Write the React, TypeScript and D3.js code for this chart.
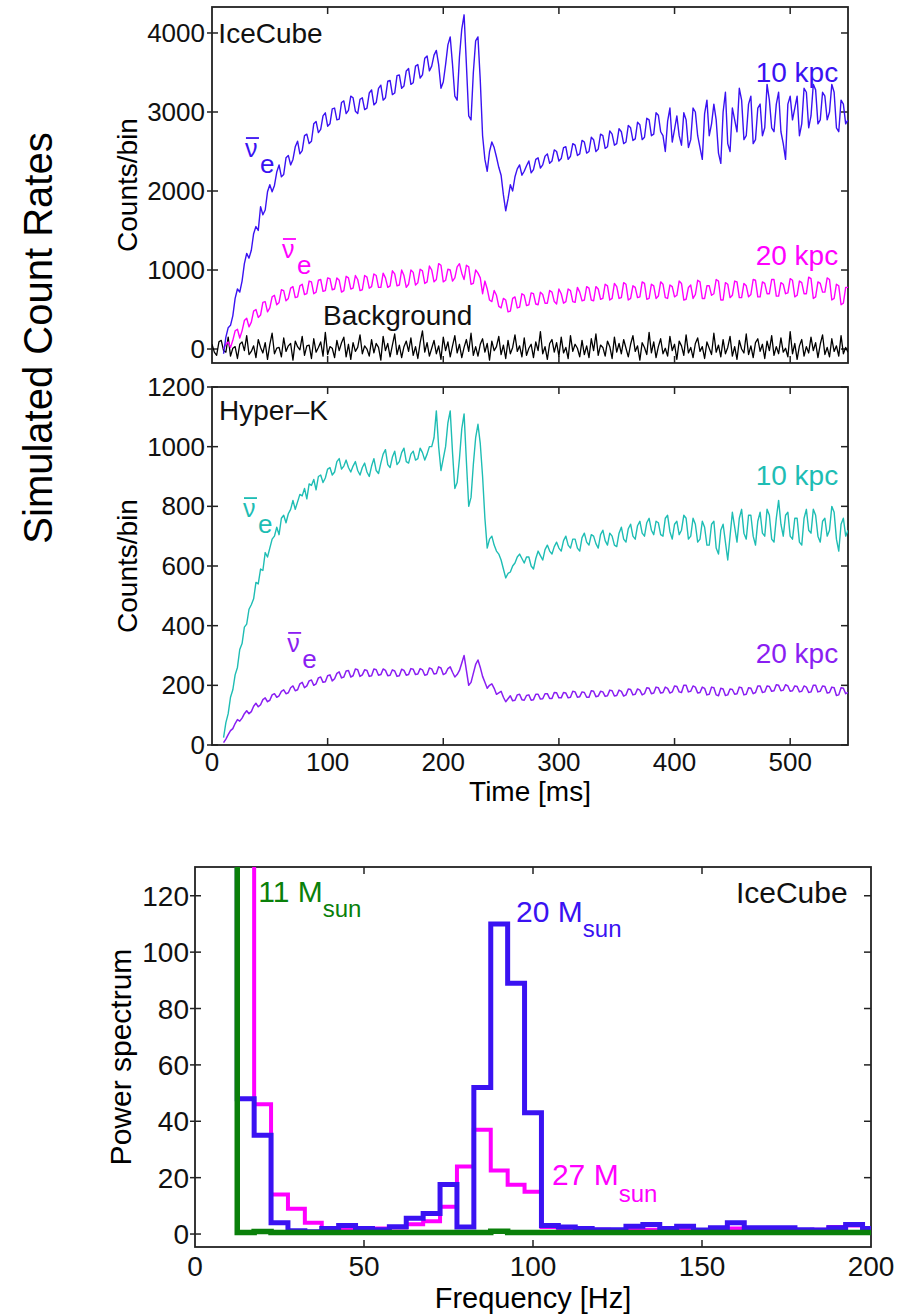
import * as d3 from 'd3';

const FONT = '"Liberation Sans", Arial, Helvetica, sans-serif';

// time series: one value every DT ms, starting at T0 (signals) or 0 (background)
const T0 = 10;
const DT = 2;

const ICECUBE_10KPC = [
  -60, 150, 270, 300, 420, 640, 760, 720, 860, 1080,
  1210, 1150, 1250, 1460, 1550, 1500, 1800, 1700, 1760, 1990,
  2080, 1990, 2070, 2240, 2330, 2180, 2210, 2420, 2450, 2330,
  2400, 2560, 2630, 2470, 2510, 2700, 2720, 2600, 2630, 2850,
  2880, 2740, 2780, 2950, 2990, 2820, 2850, 3040, 3050, 2900,
  2910, 3120, 3140, 2980, 3020, 3200, 3180, 3010, 2980, 3160,
  3180, 3030, 3050, 3240, 3280, 3090, 3120, 3300, 3340, 3150,
  3180, 3390, 3400, 3220, 3240, 3460, 3470, 3300, 3330, 3520,
  3550, 3350, 3370, 3580, 3600, 3430, 3470, 3680, 3710, 3520,
  3580, 3720, 3780, 3600, 3300, 3380, 3600, 3850, 3950, 3600,
  3200, 3150, 3700, 4050, 4230, 3600, 2950, 2900, 3500, 3900,
  3950, 3400, 2700, 2400, 2250, 2500, 2620, 2550, 2430, 2300,
  2200, 1950, 1750, 1900, 2080, 2000, 2180, 2280, 2330, 2200,
  2250, 2320, 2380, 2230, 2270, 2400, 2420, 2290, 2330, 2440,
  2470, 2350, 2380, 2520, 2500, 2380, 2410, 2550, 2560, 2400,
  2440, 2600, 2580, 2450, 2470, 2640, 2620, 2480, 2500, 2680,
  2650, 2500, 2530, 2720, 2700, 2540, 2560, 2760, 2720, 2580,
  2600, 2790, 2750, 2600, 2620, 2830, 2800, 2640, 2660, 2870,
  2840, 2650, 2680, 2920, 2900, 2700, 2720, 2990, 2960, 2750,
  2700, 2500, 2880, 3050, 2620, 2780, 2950, 2700, 2580, 2990,
  2900, 2550, 2650, 3050, 3000, 2700, 2550, 2400, 2980, 3150,
  2700, 2850, 3100, 2900, 2480, 2350, 3000, 3250, 2600, 2500,
  3050, 2900, 2750, 3300, 3150, 2650, 2700, 3100, 3200, 2600,
  2650, 3050, 3100, 2700, 2800, 3350, 3150, 2800, 2750, 3100,
  3250, 2750, 2600, 2400, 3100, 3200, 2900, 3050, 3200, 2700,
  2850, 3300, 3250, 2800, 2950, 3350, 3280, 2850, 2900, 3250,
  3200, 2900, 3000, 3350, 3250, 2800, 2750, 3150, 3100, 2850,
  2900,
];

const ICECUBE_20KPC = [
  0, 60, 90, 20, 110, 230, 250, 140, 230, 360,
  390, 280, 340, 480, 500, 400, 430, 590, 600, 470,
  520, 660, 680, 560, 590, 750, 740, 610, 640, 770,
  790, 650, 660, 800, 820, 690, 700, 860, 850, 700,
  720, 870, 880, 730, 740, 900, 890, 750, 760, 900,
  870, 720, 740, 920, 900, 760, 770, 930, 880, 740,
  750, 930, 910, 770, 790, 950, 930, 780, 780, 960,
  900, 780, 800, 990, 950, 800, 810, 1000, 930, 780,
  820, 1000, 970, 810, 840, 1010, 990, 830, 850, 1050,
  1000, 850, 880, 1080, 1060, 850, 870, 1010, 1000, 860,
  900, 1040, 1080, 960, 880, 1060, 1040, 820, 830, 1000,
  960, 900, 700, 860, 760, 620, 600, 740, 680, 540,
  520, 640, 620, 470, 480, 640, 660, 520, 530, 700,
  680, 550, 560, 710, 700, 570, 560, 720, 690, 580,
  580, 740, 720, 600, 570, 760, 700, 580, 600, 760,
  740, 600, 590, 780, 720, 610, 620, 790, 770, 620,
  610, 790, 760, 630, 640, 820, 800, 620, 640, 830,
  790, 640, 650, 840, 820, 620, 640, 800, 780, 650,
  660, 850, 830, 630, 640, 820, 800, 640, 670, 850,
  820, 650, 640, 810, 790, 660, 680, 860, 830, 620,
  630, 780, 810, 640, 690, 870, 850, 640, 640, 800,
  800, 680, 700, 880, 860, 620, 620, 840, 820, 650,
  680, 860, 850, 650, 650, 830, 800, 660, 690, 880,
  870, 660, 660, 850, 830, 700, 700, 880, 880, 670,
  670, 840, 820, 700, 710, 890, 870, 660, 680, 860,
  840, 700, 700, 910, 890, 640, 660, 850, 830, 720,
  720, 900, 880, 620, 640, 820, 800, 560, 580, 780,
  780,
];

const ICECUBE_BACKGROUND = [
  60, -40, -80, 90, 110, -20, -40, 150, -90, 10,
  30, -120, 60, 90, -20, 170, -70, -30, 40, -110,
  120, 20, -50, 80, -130, 60, 200, -60, 10, 20,
  -100, 140, -30, 40, 70, -140, 100, 30, -10, 160,
  -80, 40, 50, -120, 130, -40, 20, 90, -90, 210,
  -70, 30, 10, -110, 110, -20, 80, 150, -100, 60,
  -130, 80, -30, 20, 180, -60, 40, 0, -90, 120,
  -50, 70, 20, -140, 160, -20, 70, -100, 50, 190,
  -70, 50, -110, 30, 100, -30, 140, -80, 30, -120,
  80, 230, -40, 80, -90, 10, 110, -60, 40, -130,
  150, -20, 90, -100, 40, 170, -50, 60, -110, 20,
  120, -30, 200, -80, 30, -90, 60, 130, -40, 70,
  -140, 100, -20, 30, 160, -70, 50, -120, 110, -60,
  20, 180, -30, 40, -100, 140, -80, 10, 60, -110,
  90, -20, 220, -60, 30, -130, 70, 120, -40, 80,
  -90, 150, -50, 20, -120, 170, -30, 60, 10, -100,
  110, -70, 40, -110, 130, -20, 190, -80, 50, 20,
  -90, 100, 30, -120, 150, -40, 70, -60, 120, 10,
  -100, 60, 170, -30, 40, -140, 80, 20, -70, 210,
  -50, 90, -110, 30, 130, -60, 10, -90, 160, -20,
  60, -130, 100, 40, -80, 180, -50, 20, -110, 70,
  140, -30, 30, -120, 90, 10, -70, 200, -40, 50,
  -100, 120, -60, 20, 160, -90, 30, -130, 110, 0,
  -50, 190, -70, 40, -110, 80, 130, -30, 60, -120,
  100, -20, 170, -80, 30, -60, 140, -40, 10, -100,
  220, -60, 70, -130, 40, 120, -90, 30, -50, 150,
  -20, 80, -110, 60, 180, -70, 20, -100, 130, -30,
  40, -90, 170, -60, 20, -40,
];

const HYPERK_10KPC = [
  25, 75, 105, 160, 185, 235, 260, 320, 340, 395,
  405, 455, 470, 490, 545, 540, 590, 585, 645, 630,
  660, 690, 700, 730, 705, 760, 770, 745, 775, 790,
  820, 790, 815, 840, 835, 860, 825, 875, 870, 890,
  855, 900, 905, 880, 895, 925, 930, 905, 915, 950,
  960, 925, 935, 955, 930, 915, 935, 950, 920, 905,
  930, 945, 915, 900, 935, 960, 920, 910, 945, 975,
  990, 940, 930, 965, 985, 940, 950, 980, 995, 950,
  945, 975, 985, 955, 960, 995, 980, 955, 975, 1000,
  1000, 1030, 1120, 1000, 920, 960, 1000, 1080, 1120, 980,
  860, 880, 960, 1060, 1110, 950, 800, 830, 940, 1030,
  1075, 1010, 900, 760, 660, 690, 700, 670, 650, 640,
  620, 590, 560, 575, 580, 600, 610, 630, 640, 625,
  610, 630, 630, 600, 590, 625, 650, 635, 620, 655,
  670, 650, 640, 665, 680, 660, 650, 685, 700, 670,
  660, 690, 690, 660, 650, 695, 710, 680, 670, 705,
  700, 675, 660, 705, 720, 685, 670, 710, 700, 670,
  665, 710, 730, 690, 680, 725, 740, 700, 690, 735,
  750, 710, 700, 745, 760, 720, 705, 750, 745, 705,
  700, 760, 770, 715, 690, 740, 750, 705, 720, 770,
  760, 690, 700, 760, 740, 680, 690, 750, 730, 670,
  670, 740, 750, 660, 640, 720, 740, 680, 620, 700,
  780, 730, 680, 760, 790, 710, 690, 770, 770, 700,
  670, 750, 780, 710, 700, 790, 770, 690, 680, 760,
  820, 740, 700, 770, 780, 700, 690, 760, 760, 680,
  670, 760, 790, 720, 710, 790, 770, 700, 680, 750,
  760, 700, 720, 800, 780, 690, 650, 740, 760, 700,
  720,
];

const HYPERK_20KPC = [
  8, 20, 35, 48, 55, 72, 85, 80, 90, 105,
  115, 105, 112, 130, 140, 128, 135, 152, 158, 145,
  150, 168, 172, 160, 165, 180, 185, 172, 175, 192,
  198, 182, 185, 205, 210, 192, 198, 215, 218, 200,
  205, 225, 228, 210, 212, 232, 235, 215, 222, 240,
  245, 225, 228, 248, 250, 228, 232, 255, 252, 230,
  235, 252, 250, 230, 232, 255, 252, 234, 236, 255,
  250, 232, 234, 252, 248, 230, 232, 254, 250, 234,
  236, 256, 254, 236, 238, 256, 252, 234, 236, 258,
  255, 238, 240, 262, 258, 236, 240, 256, 262, 244,
  228, 236, 250, 275, 300, 250, 200, 210, 240, 270,
  285, 260, 230, 210, 190, 200, 205, 190, 170, 175,
  180, 160, 145, 155, 165, 148, 150, 168, 170, 152,
  150, 166, 168, 150, 152, 170, 170, 154, 155, 172,
  172, 156, 156, 176, 175, 158, 158, 176, 174, 158,
  160, 180, 178, 160, 162, 178, 176, 160, 160, 182,
  180, 162, 164, 180, 178, 163, 165, 184, 182, 164,
  166, 184, 180, 164, 168, 188, 186, 168, 170, 188,
  184, 168, 172, 192, 190, 172, 174, 194, 192, 174,
  176, 194, 190, 174, 178, 198, 196, 178, 176, 200,
  200, 178, 180, 198, 194, 174, 176, 194, 190, 168,
  170, 194, 192, 168, 165, 190, 188, 166, 168, 188,
  186, 170, 172, 194, 192, 168, 170, 192, 190, 172,
  176, 198, 198, 176, 178, 198, 196, 180, 182, 202,
  200, 182, 184, 202, 198, 180, 182, 198, 196, 178,
  180, 198, 194, 176, 178, 200, 200, 178, 180, 198,
  196, 174, 176, 194, 192, 166, 168, 192, 190, 172,
  176,
];

const TIME_TICKS = [0, 100, 200, 300, 400, 500];
const ICE_Y_TICKS = [0, 1000, 2000, 3000, 4000];
const HK_Y_TICKS = [0, 200, 400, 600, 800, 1000, 1200];

// power spectrum, 5 Hz bins (centres)
const BIN_WIDTH = 5;
const FREQ_BINS = d3.range(10, 201, 5);
const SPEC_11MSUN = [
  400, 0.5, 0.9, 0.5, 0.5, 0.5, 0.5, 0.5, 0.5, 0.5, 0.5, 0.5, 0.5, 0.5, 0.5, 0.5, 1.0, 0.5, 0.5, 0.5,
  0.5, 0.5, 0.5, 0.5, 0.5, 0.5, 0.5, 0.5, 0.5, 0.5, 0.5, 0.5, 0.5, 0.5, 0.5, 0.5, 0.5, 0.5, 0.5,
];
const SPEC_20MSUN = [
  400, 48, 35, 4, 1.2, 0.8, 2, 3, 2, 1.5, 2.6, 5.6, 7.3, 17.6, 2.5, 52, 110, 89, 43, 3,
  2.5, 2, 1.5, 1.5, 2.8, 3.4, 2, 2.8, 1.4, 2.2, 4, 2.2, 2.2, 2.2, 1.5, 1.4, 2.2, 3.4, 2,
];
const SPEC_27MSUN = [
  400, 400, 46, 14, 9, 4, 1.5, 1.5, 1.2, 2, 2.3, 3.5, 4.5, 9.7, 24, 37, 22.5, 17.5, 15, 2.5,
  2, 1.5, 1.5, 1.2, 1.5, 1.5, 1.2, 1.5, 1.2, 1.5, 2, 1.5, 1.2, 1.5, 1.2, 1.5, 2.5, 3, 2,
];
const FREQ_TICKS = [0, 50, 100, 150, 200];
const POWER_TICKS = [0, 20, 40, 60, 80, 100, 120];

const BLUE = '#3a12f2';
const MAGENTA = '#ff00ff';
const CYAN = '#1ebdb4';
const PURPLE = '#8a1ef2';
const GREEN = '#0a800a';

type Scale = d3.ScaleLinear<number, number>;

const xTime = d3.scaleLinear().domain([0, 550]).range([212, 848]);
const yIce = d3.scaleLinear().domain([-177, 4329]).range([363, 7]);
const yHK = d3.scaleLinear().domain([0, 1200]).range([745, 387]);
const xFreq = d3.scaleLinear().domain([0, 200]).range([195, 871]);
const yPow = d3.scaleLinear().domain([-4.6, 130.2]).range([1247, 867]);

const series = (vals: number[], start: number): [number, number][] =>
  vals.map((v, i) => [start + i * DT, v]);

const stairs = (vals: number[]): [number, number][] =>
  FREQ_BINS.flatMap((c, i) => [
    [c - BIN_WIDTH / 2, vals[i]],
    [c + BIN_WIDTH / 2, vals[i]],
  ]);

function Frame({ id, x, y, xTicks, yTicks }: { id: string; x: Scale; y: Scale; xTicks: number[]; yTicks: number[] }) {
  const [x0, x1] = x.range();
  const [y0, y1] = y.range();
  return (
    <g stroke="#222" strokeWidth={1.5}>
      <clipPath id={id}>
        <rect x={x0} y={y1} width={x1 - x0} height={y0 - y1} />
      </clipPath>
      {xTicks.map((t) => (
        <g key={'x' + t}>
          <line x1={x(t)} x2={x(t)} y1={y0} y2={y0 - 7} />
          <line x1={x(t)} x2={x(t)} y1={y1} y2={y1 + 7} />
        </g>
      ))}
      {yTicks.map((t) => (
        <g key={'y' + t}>
          <line x1={x0 - 5} x2={x0 + 6} y1={y(t)} y2={y(t)} />
          <line x1={x1} x2={x1 - 7} y1={y(t)} y2={y(t)} />
        </g>
      ))}
      <rect x={x0} y={y1} width={x1 - x0} height={y0 - y1} fill="none" strokeWidth={1.8} />
    </g>
  );
}

function NuBar({ x, y, color }: { x: number; y: number; color: string }) {
  return (
    <g fill={color}>
      <text x={x} y={y} fontSize={25}>ν</text>
      <line x1={x + 1} x2={x + 14} y1={y - 19} y2={y - 19} stroke={color} strokeWidth={1.8} />
      <text x={x + 15} y={y + 16} fontSize={26}>e</text>
    </g>
  );
}

export default function App() {
  const line = d3.line<[number, number]>().x((d) => xTime(d[0]));
  const iceLine = (vals: number[], start = T0) => line.y((d) => yIce(d[1]))(series(vals, start)) ?? '';
  const hkLine = (vals: number[]) => line.y((d) => yHK(d[1]))(series(vals, T0)) ?? '';
  const specLine = (vals: number[]) =>
    d3.line<[number, number]>().x((d) => xFreq(d[0])).y((d) => yPow(Math.min(d[1], 200)))(stairs(vals)) ?? '';

  return (
    <svg width={912} height={1316} style={{ position: 'absolute', left: 0, top: 0, background: '#fff' }} fontFamily={FONT}>
      <text transform="translate(52,338) rotate(-90)" textAnchor="middle" fontSize={40} fill="#000">
        Simulated Count Rates
      </text>

      {/* IceCube panel */}
      <Frame id="clipIce" x={xTime} y={yIce} xTicks={TIME_TICKS.slice(1)} yTicks={ICE_Y_TICKS} />
      <g clipPath="url(#clipIce)" fill="none" strokeLinejoin="round">
        <path d={iceLine(ICECUBE_BACKGROUND, 0)} stroke="#000" strokeWidth={1.3} />
        <path d={iceLine(ICECUBE_20KPC)} stroke={MAGENTA} strokeWidth={1.4} />
        <path d={iceLine(ICECUBE_10KPC)} stroke={BLUE} strokeWidth={1.4} />
      </g>
      <g fontSize={26} textAnchor="end" fill="#111">
        {ICE_Y_TICKS.map((t) => (
          <text key={t} x={205} y={yIce(t) + 9}>{t}</text>
        ))}
      </g>
      <text transform={`translate(137,${(yIce.range()[0] + yIce.range()[1]) / 2}) rotate(-90)`} textAnchor="middle" fontSize={28}>
        Counts/bin
      </text>
      <text x={xTime(5.5)} y={yIce(3873)} fontSize={28} fill="#111">IceCube</text>
      <text x={xTime(541.5)} y={yIce(3380)} fontSize={28} fill={BLUE} textAnchor="end">10 kpc</text>
      <text x={xTime(541.5)} y={yIce(1063)} fontSize={28} fill={MAGENTA} textAnchor="end">20 kpc</text>
      <text x={xTime(96)} y={yIce(304)} fontSize={28} fill="#111">Background</text>
      <NuBar x={xTime(28.5)} y={yIce(2430)} color={BLUE} />
      <NuBar x={xTime(60.5)} y={yIce(1152)} color={MAGENTA} />

      {/* Hyper-K panel */}
      <Frame id="clipHK" x={xTime} y={yHK} xTicks={TIME_TICKS.slice(1)} yTicks={HK_Y_TICKS} />
      <g clipPath="url(#clipHK)" fill="none" strokeLinejoin="round">
        <path d={hkLine(HYPERK_20KPC)} stroke={PURPLE} strokeWidth={1.5} />
        <path d={hkLine(HYPERK_10KPC)} stroke={CYAN} strokeWidth={1.4} />
      </g>
      <g fontSize={26} textAnchor="end" fill="#111">
        {HK_Y_TICKS.map((t) => (
          <text key={t} x={205} y={yHK(t) + 9}>{t}</text>
        ))}
      </g>
      <g fontSize={26} textAnchor="middle" fill="#111">
        {TIME_TICKS.map((t) => (
          <text key={t} x={xTime(t)} y={771}>{t}</text>
        ))}
      </g>
      <text x={(xTime.range()[0] + xTime.range()[1]) / 2} y={801} fontSize={28} textAnchor="middle">Time [ms]</text>
      <text transform={`translate(137,${(yHK.range()[0] + yHK.range()[1]) / 2}) rotate(-90)`} textAnchor="middle" fontSize={28}>
        Counts/bin
      </text>
      <text x={xTime(6)} y={yHK(1089)} fontSize={28} fill="#111">Hyper–K</text>
      <text x={xTime(541.5)} y={yHK(872)} fontSize={28} fill={CYAN} textAnchor="end">10 kpc</text>
      <text x={xTime(541.5)} y={yHK(275)} fontSize={28} fill={PURPLE} textAnchor="end">20 kpc</text>
      <NuBar x={xTime(26.8)} y={yHK(764)} color={CYAN} />
      <NuBar x={xTime(65)} y={yHK(312)} color={PURPLE} />

      {/* Power spectrum panel */}
      <Frame id="clipPow" x={xFreq} y={yPow} xTicks={FREQ_TICKS.slice(1, -1)} yTicks={POWER_TICKS} />
      <g clipPath="url(#clipPow)" fill="none" strokeLinejoin="miter">
        <path d={specLine(SPEC_27MSUN)} stroke={MAGENTA} strokeWidth={4} />
        <path d={specLine(SPEC_20MSUN)} stroke={BLUE} strokeWidth={5} />
        <path d={specLine(SPEC_11MSUN)} stroke={GREEN} strokeWidth={5.5} />
      </g>
      <g fontSize={28} textAnchor="end" fill="#111">
        {POWER_TICKS.map((t) => (
          <text key={t} x={189} y={yPow(t) + 10}>{t}</text>
        ))}
      </g>
      <g fontSize={28} textAnchor="middle" fill="#111">
        {FREQ_TICKS.map((t) => (
          <text key={t} x={xFreq(t)} y={1276}>{t}</text>
        ))}
      </g>
      <text x={(xFreq.range()[0] + xFreq.range()[1]) / 2} y={1308} fontSize={29} textAnchor="middle">Frequency [Hz]</text>
      <text transform={`translate(131,${(yPow.range()[0] + yPow.range()[1]) / 2}) rotate(-90)`} textAnchor="middle" fontSize={30}>
        Power spectrum
      </text>
      <text x={xFreq(193.1)} y={yPow(117.4)} fontSize={30} fill="#111" textAnchor="end">IceCube</text>
      <text x={xFreq(18.7)} y={yPow(117.7)} fontSize={30} fill={GREEN}>
        11 M<tspan fontSize={24} dy={15}>sun</tspan>
      </text>
      <text x={xFreq(95)} y={yPow(110.6)} fontSize={30} fill={BLUE}>
        20 M<tspan fontSize={24} dy={15}>sun</tspan>
      </text>
      <text x={xFreq(105.6)} y={yPow(17.4)} fontSize={30} fill={MAGENTA}>
        27 M<tspan fontSize={24} dy={17}>sun</tspan>
      </text>
    </svg>
  );
}
